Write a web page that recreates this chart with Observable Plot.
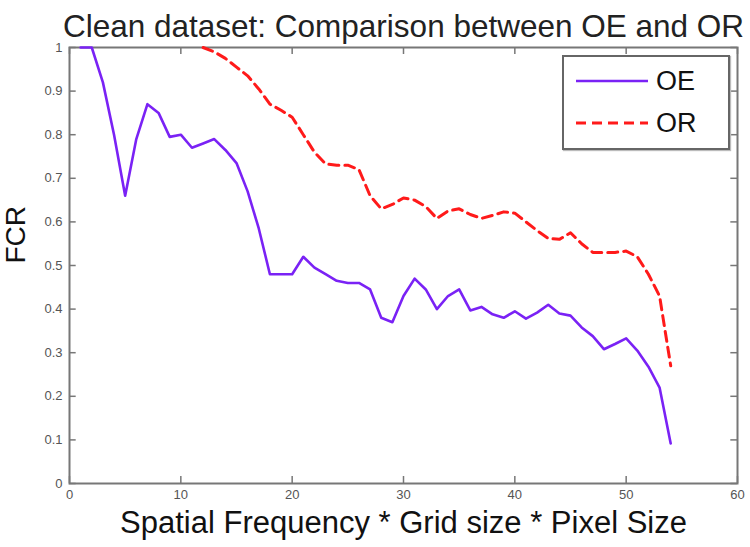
<!DOCTYPE html>
<html>
<head>
<meta charset="utf-8">
<script src="https://cdn.jsdelivr.net/npm/d3@7"></script>
<script src="https://cdn.jsdelivr.net/npm/@observablehq/plot@0.6"></script>
<style>
  html, body { margin: 0; padding: 0; background: #fff; }
  #wrap { position: relative; width: 750px; height: 547px; overflow: hidden; font-family: "Liberation Sans", Arial, sans-serif; }
  #legend { position: absolute; left: 562px; top: 55px; width: 164px; height: 91px; border: 2px solid #666; background: #fff; box-shadow: 1px 1px 1px #bbb; }
  #legend .item { position: absolute; left: 0; height: 30px; display: flex; align-items: center; }
  #legend .lab { font-size: 27px; color: #111; }
</style>
</head>
<body>
<div id="wrap"></div>
<script>
const title = "Clean dataset: Comparison between OE and OR";
const xLabel = "Spatial Frequency * Grid size * Pixel Size";
const yLabel = "FCR";
const seriesNames = ["OE", "OR"];
const seriesColors = ["#7a22f5", "#ff1a1a"];

const xTicks = [0, 10, 20, 30, 40, 50, 60];
const yTicks = [0, 0.1, 0.2, 0.3, 0.4, 0.5, 0.6, 0.7, 0.8, 0.9, 1];

const oeX = [1,2,3,4,5,6,7,8,9,10,11,12,13,14,15,16,17,18,19,20,21,22,23,24,25,26,27,28,29,30,31,32,33,34,35,36,37,38,39,40,41,42,43,44,45,46,47,48,49,50,51,52,53,54];
const oeY = [1.0,1.0,0.92,0.80,0.66,0.79,0.87,0.85,0.795,0.80,0.77,0.78,0.79,0.765,0.735,0.67,0.585,0.48,0.48,0.48,0.52,0.495,0.48,0.465,0.46,0.46,0.445,0.38,0.37,0.43,0.47,0.445,0.40,0.43,0.445,0.397,0.405,0.388,0.38,0.395,0.378,0.392,0.41,0.39,0.385,0.358,0.338,0.308,0.32,0.333,0.305,0.268,0.22,0.092];

const orX = [12,13,14,15,16,17,18,19,20,21,22,23,24,25,26,27,28,29,30,31,32,33,34,35,36,37,38,39,40,41,42,43,44,45,46,47,48,49,50,51,52,53,54];
const orY = [1.0,0.99,0.975,0.955,0.935,0.905,0.87,0.856,0.84,0.80,0.76,0.733,0.73,0.73,0.72,0.66,0.63,0.64,0.655,0.65,0.635,0.608,0.625,0.63,0.617,0.608,0.615,0.623,0.62,0.60,0.58,0.562,0.56,0.575,0.55,0.53,0.53,0.53,0.533,0.52,0.48,0.43,0.27];

const oe = oeX.map((x, i) => ({x, y: oeY[i]}));
const or = orX.map((x, i) => ({x, y: orY[i]}));

const tickLenX = 0.6;   // in x data units
const tickLenY = 0.016; // in y data units

const chart = Plot.plot({
  width: 750,
  height: 547,
  marginLeft: 69,
  marginRight: 13,
  marginTop: 47,
  marginBottom: 64,
  x: {domain: [0, 60]},
  y: {domain: [0, 1]},
  style: {fontFamily: "'Liberation Sans', Arial, sans-serif", background: "#fff", overflow: "visible"},
  marks: [
    Plot.axisX(xTicks, {tickSize: 0, tickPadding: 6, fontSize: 13, fill: "#555", label: null, tickFormat: d => String(d)}),
    Plot.axisY(yTicks, {tickSize: 0, tickPadding: 7, fontSize: 13, fill: "#555", label: null, tickFormat: d => String(d)}),
    Plot.ruleX(xTicks, {x: d => d, y1: 0, y2: tickLenY, stroke: "#777", strokeWidth: 1.5}),
    Plot.ruleX(xTicks, {x: d => d, y1: 1, y2: 1 - tickLenY, stroke: "#777", strokeWidth: 1.5}),
    Plot.ruleY(yTicks, {y: d => d, x1: 0, x2: tickLenX, stroke: "#777", strokeWidth: 1.5}),
    Plot.ruleY(yTicks, {y: d => d, x1: 60, x2: 60 - tickLenX, stroke: "#777", strokeWidth: 1.5}),
    Plot.frame({stroke: "#777", strokeWidth: 2}),
    Plot.line(oe, {x: "x", y: "y", stroke: seriesColors[0], strokeWidth: 2.6}),
    Plot.line(or, {x: "x", y: "y", stroke: seriesColors[1], strokeWidth: 3, strokeDasharray: "10,6"}),
    Plot.text([title], {frameAnchor: "top", dy: -33, fontSize: 31.5, fill: "#222", text: d => d}),
    Plot.text([xLabel], {frameAnchor: "bottom", dy: 49, fontSize: 31, fill: "#111", text: d => d}),
    Plot.text([yLabel], {frameAnchor: "left", dx: -53, dy: -2, rotate: -90, fontSize: 28, fill: "#111", text: d => d})
  ]
});

const wrap = document.getElementById("wrap");
wrap.appendChild(chart);

const legend = document.createElement("div");
legend.id = "legend";
const dashes = ["", "10,6"];
seriesNames.forEach((name, i) => {
  const item = document.createElement("div");
  item.className = "item";
  item.style.top = (i === 0 ? 9 : 51) + "px";
  item.innerHTML = `<svg width="80" height="10" style="margin-left:12px"><line x1="0" y1="5" x2="72" y2="5" stroke="${seriesColors[i]}" stroke-width="${i === 0 ? 2.6 : 3}" ${dashes[i] ? `stroke-dasharray="${dashes[i]}"` : ""}/></svg><span class="lab">${name}</span>`;
  legend.appendChild(item);
});
wrap.appendChild(legend);
</script>
</body>
</html>
